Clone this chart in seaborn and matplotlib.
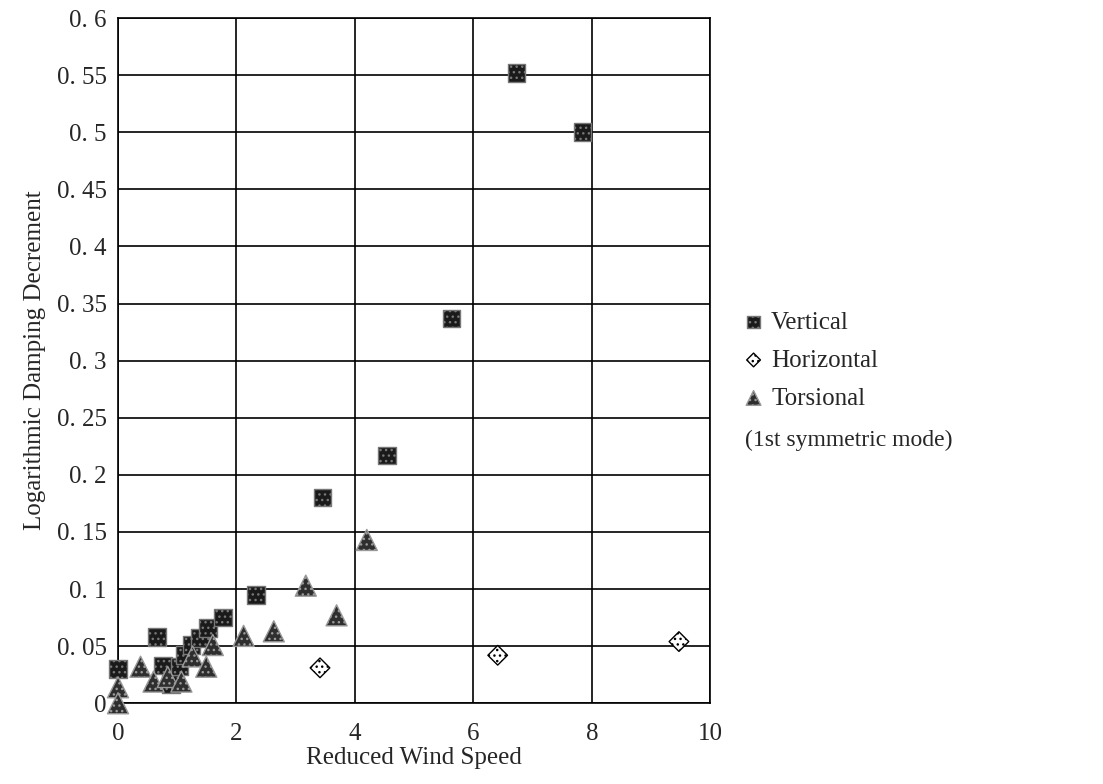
import matplotlib.pyplot as plt
import seaborn as sns
import pandas as pd

sns.set_style('white')
plt.rcParams['font.family'] = ['Liberation Serif', 'DejaVu Serif']

# values
vert_x = [0, 0.66, 0.76, 0.89, 1.04, 1.13, 1.24, 1.38, 1.52, 1.77, 2.33, 3.45, 4.54, 5.63, 6.73, 7.84]
vert_y = [0.030, 0.058, 0.033, 0.017, 0.032, 0.042, 0.051, 0.057, 0.066, 0.075, 0.095, 0.180, 0.217, 0.337, 0.552, 0.500]

horiz_x = [3.41, 6.41, 9.47]
horiz_y = [0.031, 0.042, 0.054]

tors_x = [0, 0, 0.38, 0.60, 0.84, 1.07, 1.26, 1.49, 1.60, 2.12, 2.63, 3.17, 3.69, 4.20]
tors_y = [0.014, 0.0, 0.032, 0.019, 0.023, 0.019, 0.041, 0.032, 0.051, 0.059, 0.063, 0.103, 0.077, 0.143]

modes = ['Vertical', 'Horizontal', 'Torsional']
yticks = [0, 0.05, 0.1, 0.15, 0.2, 0.25, 0.3, 0.35, 0.4, 0.45, 0.5, 0.55, 0.6]
ytick_labels = ['0', '0. 05', '0. 1', '0. 15', '0. 2', '0. 25', '0. 3', '0. 35',
                '0. 4', '0. 45', '0. 5', '0. 55', '0. 6']
xticks = [0, 2, 4, 6, 8, 10]

df = pd.concat([
    pd.DataFrame({'x': vert_x, 'y': vert_y, 'mode': modes[0]}),
    pd.DataFrame({'x': horiz_x, 'y': horiz_y, 'mode': modes[1]}),
    pd.DataFrame({'x': tors_x, 'y': tors_y, 'mode': modes[2]}),
])

fig = plt.figure(figsize=(11.03, 7.84), dpi=100)
ax = fig.add_axes([0.107, 0.103, 0.537, 0.874])

styles = {
    'Vertical': dict(marker='s', s=160, color='#1a1a1a', edgecolor='#777777', hatch='...'),
    'Horizontal': dict(marker='D', s=100, color='white', edgecolor='black', hatch='...'),
    'Torsional': dict(marker='^', s=230, color='#2e2e2e', edgecolor='#999999', hatch='...'),
}
for m in modes:
    sub = df[df['mode'] == m]
    sns.scatterplot(data=sub, x='x', y='y', ax=ax, label=m, linewidth=1.0,
                    clip_on=False, zorder=3, **styles[m])

ax.set_xlim(0, 10)
ax.set_ylim(0, 0.6)
ax.set_xticks(xticks)
ax.set_yticks(yticks)
ax.set_yticklabels(ytick_labels)
ax.tick_params(labelsize=18, length=0)
ax.tick_params(axis='x', pad=14)
ax.tick_params(axis='y', pad=8)
ax.grid(True, color='black', linewidth=1.2)
ax.set_axisbelow(True)
for sp in ax.spines.values():
    sp.set_color('black')
    sp.set_linewidth(1.2)

ax.set_xlabel('Reduced Wind Speed', fontsize=18, labelpad=2)
ax.set_ylabel('Logarithmic Damping Decrement', fontsize=18, labelpad=8)

ax.legend(loc='upper left', bbox_to_anchor=(1.035, 0.587), frameon=False,
          fontsize=18, handletextpad=0.2, handlelength=1.0, labelspacing=0.62,
          markerscale=0.7, borderaxespad=0)
fig.text(0.675, 0.438, '(1st symmetric mode)', fontsize=17, va='center')

fig.savefig('out.png', dpi=100)
